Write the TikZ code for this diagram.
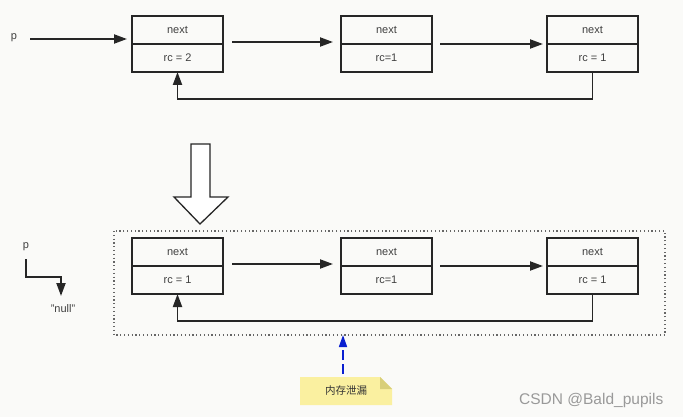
\documentclass[tikz,border=0pt]{standalone}
\usepackage{fontspec}
\setmainfont{Liberation Sans}
\newfontfamily\cjk{Noto Sans CJK SC}
\usetikzlibrary{arrows.meta,calc}
\definecolor{bg}{HTML}{FAFAF8}
\definecolor{line}{HTML}{262626}
\definecolor{note}{HTML}{FAF0A0}
\definecolor{notefold}{HTML}{D8CF7A}
\definecolor{leakblue}{HTML}{0A1FD0}
\tikzset{
  cell/.style={draw=line,line width=1.9pt,outer sep=0pt,minimum width=91pt,minimum height=28pt,inner sep=0pt,font=\fontsize{11}{13}\selectfont,text=black!75},
  link/.style={draw=line,line width=1.9pt,-{Triangle[length=13pt,width=9pt]}},
  lbl/.style={font=\fontsize{11}{13}\selectfont,text=black!75,inner sep=0pt}
}
\begin{document}
\begin{tikzpicture}[x=1pt,y=-1pt]
\fill[bg] (0,0) rectangle (683,417);
\useasboundingbox (0,0) rectangle (683,417);
% ---------- top row
\node[cell] (a1) at (177.5,30) {next};
\node[cell,anchor=north] (a1b) at (a1.south) {rc = 2};
\node[cell] (a2) at (386.5,30) {next};
\node[cell,anchor=north] (a2b) at (a2.south) {rc=1};
\node[cell] (a3) at (592.5,30) {next};
\node[cell,anchor=north] (a3b) at (a3.south) {rc = 1};
\node[lbl] (p1) at (14,38) {p};
\coordinate (p1s) at (30,39);
\coordinate (p1e) at (127,39);
\draw[link] (p1s) -- (p1e);
\coordinate (a12s) at (232,42);
\coordinate (a12e) at (333,42);
\draw[link] (a12s) -- (a12e);
\coordinate (a23s) at (440,44);
\coordinate (a23e) at (543,44);
\draw[link] (a23s) -- (a23e);
\draw[link] (a3b.south) -- ++(0,27) -| (a1b.south);
% ---------- big arrow
\draw[line width=1.3pt,draw=line,fill=white] (191,144) -- (210,144) -- (210,197) -- (228,197) -- (200,224) -- (174,197) -- (191,197) -- cycle;
% ---------- bottom row
\draw[line width=1.5pt,dash pattern=on 1.2pt off 2.6pt,draw=black!60] (114,231) rectangle (665,335);
\node[cell] (b1) at (177.5,252) {next};
\node[cell,anchor=north] (b1b) at (b1.south) {rc = 1};
\node[cell] (b2) at (386.5,252) {next};
\node[cell,anchor=north] (b2b) at (b2.south) {rc=1};
\node[cell] (b3) at (592.5,252) {next};
\node[cell,anchor=north] (b3b) at (b3.south) {rc = 1};
\coordinate (b12s) at (232,264);
\coordinate (b12e) at (333,264);
\draw[link] (b12s) -- (b12e);
\coordinate (b23s) at (440,266);
\coordinate (b23e) at (543,266);
\draw[link] (b23s) -- (b23e);
\draw[link] (b3b.south) -- ++(0,27) -| (b1b.south);
% p -> null
\node[lbl] (p2) at (26,247) {p};
\node[lbl] (nul) at (63,309) {"null"};
\coordinate (p2s) at (26,259);
\coordinate (p2e) at (61,296);
\draw[link] (p2s) |- (61,277) -- (p2e);
% ---------- note
\coordinate (bn) at (343,335);
\draw[line width=1.6pt,draw=leakblue,dash pattern=on 10pt off 4pt,-{Triangle[length=12pt,width=8pt]}] (343,374) -- (bn);
\fill[note] (300,377) -- (380,377) -- (392,389) -- (392,405) -- (300,405) -- cycle;
\fill[notefold] (380,377) -- (392,389) -- (380,389) -- cycle;
\node[font=\cjk\fontsize{10.5}{12}\selectfont,text=black!80] (leak) at (346,391) {内存泄漏};
% watermark
\node[font=\fontsize{15.5}{18}\selectfont,text=black!40,anchor=west,inner sep=0pt] (wm) at (519,400) {CSDN @Bald\_pupils};
\end{tikzpicture}
\end{document}
